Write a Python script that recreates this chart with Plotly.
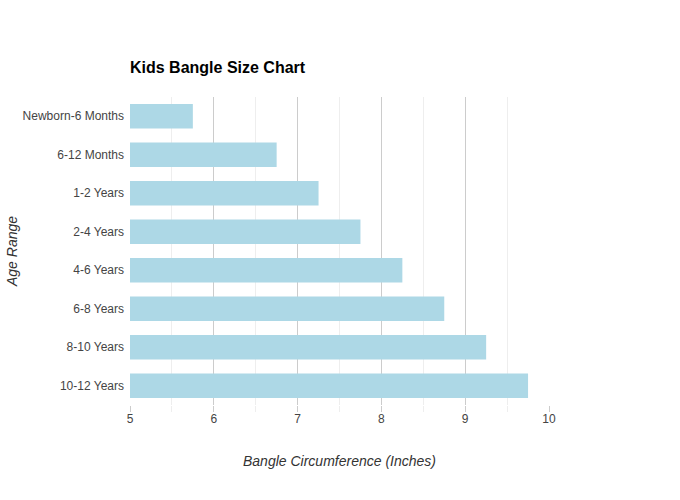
import plotly.graph_objects as go

age_ranges = ["Newborn-6 Months", "6-12 Months", "1-2 Years", "2-4 Years",
              "4-6 Years", "6-8 Years", "8-10 Years", "10-12 Years"]
circumference = [5.75, 6.75, 7.25, 7.75, 8.25, 8.75, 9.25, 9.75]
x_ticks = [5, 6, 7, 8, 9, 10]

font_family = "Liberation Sans, Arial, sans-serif"

fig = go.Figure(go.Bar(
    x=circumference,
    y=age_ranges,
    orientation="h",
    marker=dict(color="#ADD8E6", line=dict(width=0)),
    hovertemplate="%{y}: %{x}<extra></extra>",
))

fig.update_layout(
    width=680, height=500,
    margin=dict(l=130, r=131, t=97, b=95, autoexpand=False),
    paper_bgcolor="white", plot_bgcolor="white",
    font=dict(family=font_family, size=12, color="#333333"),
    bargap=0.37,
    showlegend=False,
    title=dict(
        text="<b>Kids Bangle Size Chart</b>",
        font=dict(size=16, color="#000000", family=font_family),
        x=130/680, xref="container", xanchor="left",
        y=1-67/500, yref="container", yanchor="middle",
    ),
    xaxis=dict(
        range=[5, 10],
        tickvals=x_ticks,
        showgrid=True, gridcolor="#cccccc", gridwidth=1,
        zeroline=False, showline=False,
        ticks="outside", ticklen=6, tickcolor="#cccccc", tickwidth=1,
        ticklabelstandoff=-3,
        minor=dict(dtick=0.5, showgrid=True, gridcolor="#eeeeee",
                   ticks="outside", ticklen=6, tickcolor="#eeeeee"),
        tickfont=dict(size=12, color="#444444"),
        title=dict(text="<i>Bangle Circumference (Inches)</i>",
                   font=dict(size=14, color="#333333"), standoff=30),
        fixedrange=True,
    ),
    yaxis=dict(
        autorange="reversed",
        showgrid=False, zeroline=False, showline=False,
        ticks="", ticklabelstandoff=5,
        tickfont=dict(size=12, color="#444444"),
        title=dict(text="<i>Age Range</i>",
                   font=dict(size=14, color="#333333"), standoff=1),
        fixedrange=True,
    ),
)

fig.write_html("out.html")
